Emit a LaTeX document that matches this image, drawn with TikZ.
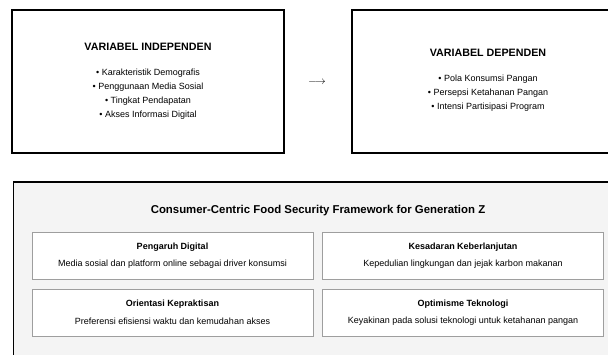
\documentclass[tikz,border=0pt]{standalone}
\usepackage{fontspec}
\setmainfont{Liberation Sans}
\usetikzlibrary{positioning}
\definecolor{panelgray}{rgb}{0.955,0.955,0.955}
\definecolor{boxgray}{rgb}{0.62,0.62,0.62}
\tikzset{
  varbox/.style={draw=black,line width=1.4pt,fill=white,minimum width=272pt,minimum height=143pt,inner sep=0pt},
  factorbox/.style={draw=boxgray,line width=0.8pt,fill=white,minimum width=281pt,minimum height=47pt,inner sep=0pt},
  vartitle/.style={font=\bfseries\fontsize{10.7}{12}\selectfont},
  varlist/.style={font=\fontsize{9}{14}\selectfont,align=center},
  facttitle/.style={font=\bfseries\fontsize{9}{10}\selectfont},
  factdesc/.style={font=\fontsize{9}{10}\selectfont}
}
\newcommand{\drawfactor}[4]{
  \node[factorbox] (#1) at #2 {};
  \node[facttitle] (#1-title) at ([yshift=8.5pt]#1.center) {#3};
  \node[factdesc] (#1-desc) at ([yshift=-8.5pt]#1.center) {#4};
}

\begin{document}
\begin{tikzpicture}[x=1pt,y=-1pt]
      \useasboundingbox (0,0) rectangle (608,355);
      \clip (0,0) rectangle (608,355);

      % upper row: variables
      \node[varbox] (indep) at (148,81.5) {};
      \node[vartitle] (indep-title) at (148,47) {VARIABEL INDEPENDEN};
      \node[varlist] (indep-list) at (148,94) {• Karakteristik Demografis\\• Penggunaan Media Sosial\\• Tingkat Pendapatan\\• Akses Informasi Digital};

      \node[varbox] (dep) at (488,81.5) {};
      \node[vartitle] (dep-title) at (488,53) {VARIABEL DEPENDEN};
      \node[varlist] (dep-list) at (488,93) {• Pola Konsumsi Pangan\\• Persepsi Ketahanan Pangan\\• Intensi Partisipasi Program};

      \node[font=\fontsize{11}{12}\selectfont] (arrow) at (317,82) {$\longrightarrow$};

      % lower panel: framework
      \draw[black,line width=1.5pt,fill=panelgray] (13.5,182) rectangle (622,370);
      \coordinate (panel) at (318,211);
      \node[font=\bfseries\fontsize{11.4}{13}\selectfont] (fw-title) at (panel) {Consumer-Centric Food Security Framework for Generation Z};

      \drawfactor{digital}{(172.5,255.5)}{Pengaruh Digital}{Media sosial dan platform online sebagai driver konsumsi}
      \drawfactor{sustain}{(463,255.5)}{Kesadaran Keberlanjutan}{Kepedulian lingkungan dan jejak karbon makanan}
      \drawfactor{practical}{(172.5,313)}{Orientasi Kepraktisan}{Preferensi efisiensi waktu dan kemudahan akses}
      \drawfactor{techopt}{(463,313)}{Optimisme Teknologi}{Keyakinan pada solusi teknologi untuk ketahanan pangan}
    \end{tikzpicture}
\end{document}
